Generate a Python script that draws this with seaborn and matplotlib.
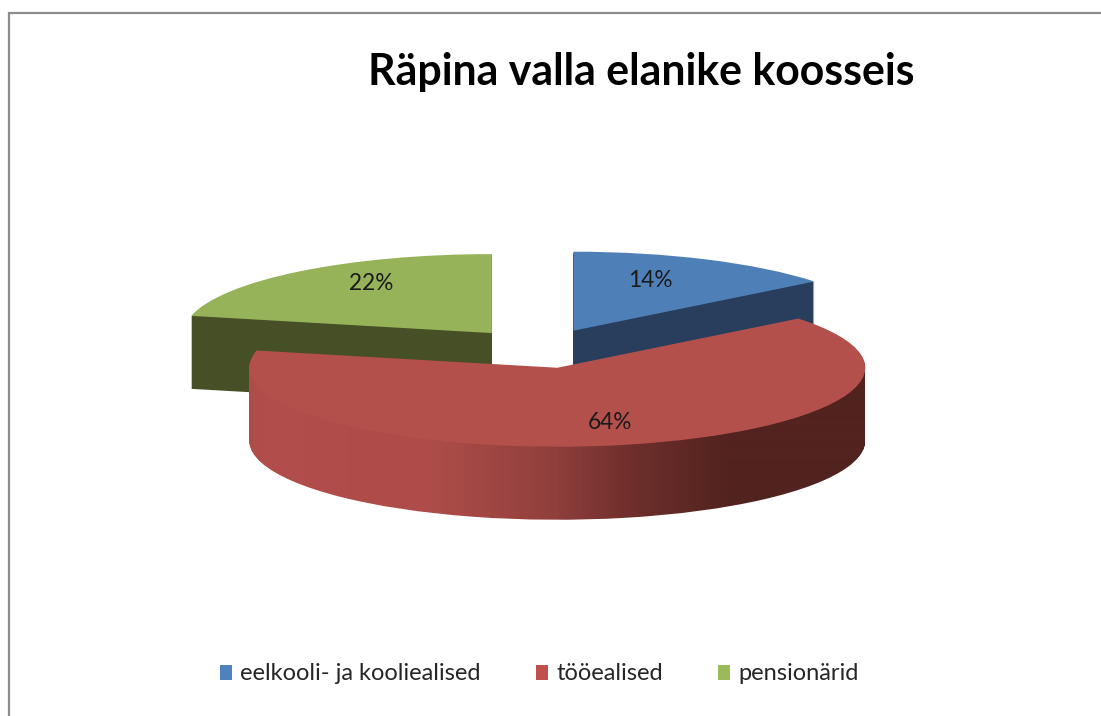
import numpy as np
import matplotlib
matplotlib.use('Agg')
import matplotlib.pyplot as plt
import seaborn as sns
from matplotlib.colors import LinearSegmentedColormap
from matplotlib.lines import Line2D
from matplotlib.patches import Patch, PathPatch
from matplotlib.path import Path

# values (slice angles say 14.3 / 64.2 / 21.5, labels round them)
categories = ['eelkooli- ja kooliealised', 'tööealised', 'pensionärid']
shares = [14.3, 64.2, 21.5]
title = 'Räpina valla elanike koosseis'

top_colors = ['#4e7fb6', '#b3504c', '#97b35a']
wall_colors = ['#283e5c', '#52231f', '#474f27']
legend_colors = ['#4f81bd', '#c0504d', '#9bbb59']

sns.set_style('white')
plt.rcParams['font.family'] = ['Lato', 'DejaVu Sans']

W, H = 1101, 716
PX_X, PX_Y = 308.0, 79.0   # pie radius in pixels, sideways and up
CX, CY = 540.0, 348.5      # centre of the unexploded pie in pixels
DEPTH = 73                 # thickness of the slices in pixels
LABEL_NUDGE = [(-17, 0), (4, 1), (14, -6)]  # pixels, right and down

fig = plt.figure(figsize=(W / 100, H / 100), dpi=100)
ax = fig.add_axes([0, 0, 1, 1])


def pie_layer(drop_px, colors, pct=False):
    kw = {'autopct': '%.0f%%', 'pctdistance': 0.7} if pct else {}
    return ax.pie(shares, explode=[0.25] * 3, startangle=90, counterclock=False,
                  colors=colors, center=(0, -drop_px / PX_Y),
                  wedgeprops={'linewidth': 0}, **kw)


# side walls: the same pie swept downward, merged per slice so the edges stay clean
parts = [[], [], []]
for drop in range(DEPTH, 0, -1):
    for i, wedge in enumerate(pie_layer(drop, wall_colors)[0]):
        parts[i].append(wedge.get_path().transformed(wedge.get_patch_transform()))
        wedge.set_visible(False)
walls = [Path.make_compound_path(*p) for p in parts]

ax.add_patch(PathPatch(walls[2], facecolor=wall_colors[2], edgecolor='none', zorder=1))
ax.add_patch(PathPatch(walls[0], facecolor=wall_colors[0], edgecolor='none', zorder=3))

# top faces
result = pie_layer(0, top_colors, pct=True)
top_wedges, pct_texts = result[0], result[2]
for wedge, z in zip(top_wedges, [4, 6, 2]):
    wedge.set_zorder(z)
for txt, (dx, dy) in zip(pct_texts, LABEL_NUDGE):
    x, y = txt.get_position()
    txt.set_position((x + dx / PX_X, y - dy / PX_Y))
    txt.set_zorder(10)
    txt.set_fontsize(16.3)
    txt.set_color('#1a1a1a')

x0, x1 = -CX / PX_X, (W - CX) / PX_X
y0, y1 = -(H - CY) / PX_Y, CY / PX_Y

# red wall shading runs from left to right across the slice
shade = LinearSegmentedColormap.from_list('red_wall', [
    (0.0, '#ad4d4a'), (0.02, '#b24e4b'), (0.30, '#ae4c49'), (0.50, '#8f3f3c'),
    (0.62, '#6f2f2c'), (0.78, '#52231f'), (1.0, '#52231f')])
strip = ax.imshow(np.linspace(0, 1, 616)[None, :], cmap=shade, aspect='auto',
                  extent=((249 - CX) / PX_X, (865 - CX) / PX_X, y0, y1), zorder=5)
strip.set_clip_path(walls[1], transform=ax.transData)

ax.set_aspect('auto')
ax.set_xlim(x0, x1)
ax.set_ylim(y0, y1)
ax.axis('off')

# chart frame, only the top and left edges are in the crop
fig.add_artist(Line2D([1, 8.5 / W, 8.5 / W], [1 - 12.5 / H, 1 - 12.5 / H, 0],
                      color='#8c8c8c', lw=1.6, solid_joinstyle='miter'))

fig.text(641 / W, 1 - 72 / H, title, ha='center', va='center',
         fontsize=30.9, fontweight='bold', color='black')

handles = [Patch(facecolor=c, edgecolor='none') for c in legend_colors]
fig.legend(handles, categories, loc='center', ncol=3, frameon=False,
           bbox_to_anchor=(539.5 / W, 1 - 674 / H), fontsize=17, labelcolor='#262626',
           handlelength=0.51, handleheight=0.6, handletextpad=0.34, columnspacing=2.35)

fig.savefig('out.png', dpi=100)
